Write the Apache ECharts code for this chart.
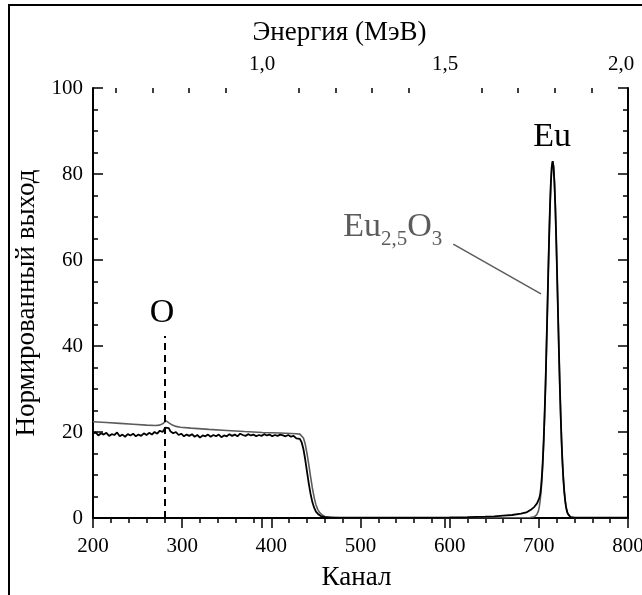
<!DOCTYPE html>
<html>
<head>
<meta charset="utf-8">
<script src="https://cdn.jsdelivr.net/npm/echarts@6/dist/echarts.min.js"></script>
<style>
  html, body { margin: 0; padding: 0; background: #fff; }
  #chart { width: 642px; height: 595px; }
</style>
</head>
<body>
<div id="chart"></div>
<script>
// Measured RBS spectrum (black) and simulated Eu2,5O3 spectrum (grey), yield vs channel
const measuredChannel = [
  200, 203, 206, 209, 212, 215, 218, 221, 224, 227, 230, 233, 236, 239, 242, 245, 248, 251, 254, 257,
  260, 263, 266, 269, 272, 275, 278, 281, 283, 285, 287, 290, 293, 296, 299, 302, 305, 308, 311, 314,
  317, 320, 323, 326, 329, 332, 335, 338, 341, 344, 347, 350, 353, 356, 359, 362, 365, 368, 371, 374,
  377, 380, 383, 386, 389, 392, 395, 398, 401, 404, 407, 410, 413, 416, 419, 422, 425, 428, 430, 432,
  434, 436, 438, 440, 442, 444, 446, 448, 450, 453, 456, 460, 470, 500, 550, 600, 620, 640, 650, 660,
  670, 680, 686, 691, 695, 698, 700.5, 701.5, 702.5, 703.5, 704.5, 705.5, 706.5, 707.5, 708.5, 709.5,
  710.5, 711.5, 712.5, 713.5, 714.5, 715.5, 716.5, 717.5, 718.5, 719.5, 720.5, 721.5, 722.5, 723.5,
  724.5, 725.5, 726.5, 727.5, 728.5, 729.5, 730.5, 731.5, 732.5, 733.5, 735.5, 740, 800
];
const measuredYield = [
  19.6, 19.9, 19.2, 19.7, 19.4, 19.8, 19.1, 19.5, 19.3, 19.9, 19.0, 19.4, 18.9, 19.5, 19.2, 19.6, 19.0, 19.4, 19.1, 19.7,
  19.3, 19.8, 19.4, 20.0, 19.6, 20.3, 20.0, 21.0, 20.6, 20.9, 20.1, 19.7, 20.0, 19.3, 19.6, 19.0, 19.4, 19.1, 19.5, 18.9,
  19.3, 18.7, 19.2, 19.0, 19.4, 18.9, 19.3, 19.0, 19.4, 18.8, 19.2, 19.0, 19.5, 19.1, 19.4, 19.0, 19.6, 19.3, 19.1, 19.5,
  19.2, 19.4, 19.0, 19.3, 19.1, 19.5, 19.2, 19.4, 19.0, 19.3, 19.1, 19.4, 19.2, 19.0, 19.3, 18.9, 19.1, 18.5, 18.9, 18.4,
  17.6, 16.0, 13.6, 10.8, 8.0, 5.6, 3.7, 2.4, 1.5, 0.8, 0.4, 0.2, 0.1, 0.1, 0.1, 0.15, 0.2, 0.3, 0.4, 0.55,
  0.7, 1.0, 1.3, 1.9, 2.6, 3.4, 4.6, 5.5, 7.2, 9.9, 13.6, 18.4, 24.4, 31.0, 39.1, 47.7,
  56.5, 64.9, 72.3, 78.0, 81.7, 83.0, 81.7, 78.0, 72.3, 64.9, 56.5, 47.7, 39.1, 31.0,
  23.9, 17.8, 12.9, 9.1, 6.2, 4.1, 2.6, 1.6, 1.0, 0.6, 0.2, 0.1, 0.1
];

const simulatedChannel = [
  200, 215, 230, 245, 260, 270, 275, 278, 280, 282, 284, 286, 289, 293, 298, 310, 330, 350, 370, 390,
  410, 428, 432, 434, 436, 438, 440, 442, 444, 446, 448, 450, 452, 454, 457, 460, 465, 475, 550, 650,
  690, 695, 697.5, 698.5, 699.5, 700.5, 701.5, 702.5, 703.5, 704.5, 705.5, 706.5, 707.5, 708.5, 709.5,
  710.5, 711.5, 712.5, 713.5, 714.5, 715.5, 716.5, 717.5, 718.5, 719.5, 720.5, 721.5, 722.5, 723.5,
  724.5, 725.5, 726.5, 727.5, 728.5, 729.5, 730.5, 731.5, 732.5, 733.5, 735.5, 740, 800
];
const simulatedYield = [
  22.4, 22.2, 22.0, 21.8, 21.6, 21.5, 21.6, 21.9, 22.3, 22.6, 22.4, 22.0, 21.6, 21.3, 21.1, 20.9, 20.6, 20.35, 20.1, 19.9,
  19.75, 19.6, 19.5, 19.3, 18.6, 17.2, 15.0, 12.4, 9.6, 7.0, 4.8, 3.1, 2.0, 1.3, 0.7, 0.35, 0.15, 0.05, 0.05, 0.05,
  0.1, 0.3, 0.7, 1.0, 1.6, 2.6, 4.1, 6.2, 9.1, 12.9, 17.8, 23.9, 31.0, 39.1, 47.7,
  56.5, 64.9, 72.3, 78.0, 81.7, 83.0, 81.7, 78.0, 72.3, 64.9, 56.5, 47.7, 39.1, 31.0,
  23.9, 17.8, 12.9, 9.1, 6.2, 4.1, 2.6, 1.6, 1.0, 0.6, 0.2, 0.05, 0.05
];

// Axis ranges and tick values
const channelRange = [200, 800];
const yieldRange = [0, 100];
const energyRange = [0.538, 2.0];           // MeV at channel 200 and 800
const energyMajorTicks = [1.0, 1.5, 2.0];
const energyMinorTicks = [0.6, 0.7, 0.8, 0.9, 1.1, 1.2, 1.3, 1.4, 1.6, 1.7, 1.8, 1.9];

// Annotation anchors in data units
const oxygenChannel = 281;
const oxygenLineTop = 42.3;
const oxygenLabel = 'O';
const europiumLabel = 'Eu';
const europiumLabelAt = [715, 88.5];
const oxygenLabelAt = [277.5, 47.6];
const compoundLabelAt = [480.7, 67.6];
const compoundLeader = [[604, 63.7], [702.4, 52.1]];

const FONT = 'Liberation Serif';
const zip = (xs, ys) => xs.map((x, i) => [x, ys[i]]);

const chart = echarts.init(document.getElementById('chart'), null, { renderer: 'canvas' });

const axisLine = { lineStyle: { color: '#000', width: 2 } };
const tickStyle = { color: '#000', width: 1.5 };
const commaFmt = v => v.toFixed(1).replace('.', ',');
// last energy label is pulled inward so it stays inside the figure
const energyFmt = v => (v >= energyRange[1] ? '{last|' + commaFmt(v) + '}' : commaFmt(v));

chart.setOption({
  animation: false,
  backgroundColor: '#fff',
  grid: { left: 93, right: 14, top: 88, bottom: 77, containLabel: false, outerBoundsMode: 'none' },
  xAxis: [
    {
      type: 'value', position: 'bottom', min: channelRange[0], max: channelRange[1], interval: 100,
      name: 'Канал', nameLocation: 'middle', nameGap: 46,
      nameTextStyle: { fontFamily: FONT, fontSize: 27, color: '#000', padding: [0, 8, 0, 0] },
      axisLine: axisLine,
      axisTick: { inside: false, length: 10, lineStyle: tickStyle },
      minorTick: { show: true, splitNumber: 5, length: 5, lineStyle: tickStyle },
      axisLabel: { margin: 18, fontFamily: FONT, fontSize: 21, color: '#000' },
      splitLine: { show: false }
    },
    {
      type: 'value', position: 'top', min: energyRange[0], max: energyRange[1],
      name: 'Энергия (МэВ)', nameLocation: 'middle', nameGap: 42,
      nameTextStyle: { fontFamily: FONT, fontSize: 27, color: '#000', padding: [0, 42, 0, 0] },
      axisLine: axisLine,
      axisTick: { inside: true, length: 10, customValues: energyMajorTicks, lineStyle: tickStyle },
      axisLabel: {
        margin: 13, customValues: energyMajorTicks, formatter: energyFmt,
        fontFamily: FONT, fontSize: 21, color: '#000',
        rich: { last: { fontFamily: FONT, fontSize: 21, color: '#000', padding: [0, 14, 0, 0] } }
      },
      splitLine: { show: false }
    },
    {
      type: 'value', position: 'top', min: energyRange[0], max: energyRange[1],
      axisLine: { show: false },
      axisTick: { inside: true, length: 5, customValues: energyMinorTicks, lineStyle: tickStyle },
      axisLabel: { show: false },
      splitLine: { show: false }
    }
  ],
  yAxis: [
    {
      type: 'value', position: 'left', min: yieldRange[0], max: yieldRange[1], interval: 20,
      name: 'Нормированный выход', nameLocation: 'middle', nameGap: 40,
      nameTextStyle: { fontFamily: FONT, fontSize: 27, color: '#000' },
      axisLine: axisLine,
      axisTick: { inside: true, length: 10, lineStyle: tickStyle },
      minorTick: { show: true, splitNumber: 4, length: 5, lineStyle: tickStyle },
      axisLabel: { margin: 10, fontFamily: FONT, fontSize: 21, color: '#000' },
      splitLine: { show: false }
    },
    {
      type: 'value', position: 'right', min: yieldRange[0], max: yieldRange[1], interval: 20,
      axisLine: axisLine,
      axisTick: { inside: true, length: 10, lineStyle: tickStyle },
      minorTick: { show: true, splitNumber: 4, length: 5, lineStyle: tickStyle },
      axisLabel: { show: false },
      splitLine: { show: false }
    }
  ],
  series: [
    {
      name: 'simulated', type: 'line', xAxisIndex: 0, yAxisIndex: 0,
      data: zip(simulatedChannel, simulatedYield),
      showSymbol: false, symbol: 'none',
      lineStyle: { color: '#5c5c5c', width: 1.6 },
      z: 2,
      markLine: {
        silent: true, symbol: ['none', 'none'], label: { show: false },
        lineStyle: { color: '#5c5c5c', width: 1.5, type: 'solid' },
        data: [[{ coord: compoundLeader[0] }, { coord: compoundLeader[1] }]]
      }
    },
    {
      name: 'measured', type: 'line', xAxisIndex: 0, yAxisIndex: 0,
      data: zip(measuredChannel, measuredYield),
      showSymbol: false, symbol: 'none',
      lineStyle: { color: '#000', width: 1.8 },
      z: 3,
      markLine: {
        silent: true, symbol: ['none', 'none'], label: { show: false },
        lineStyle: { color: '#000', width: 2, type: [7, 5] },
        data: [[{ coord: [oxygenChannel, 0] }, { coord: [oxygenChannel, oxygenLineTop] }]]
      }
    }
  ]
});

// Text annotations placed at data coordinates
const toPx = p => chart.convertToPixel({ xAxisIndex: 0, yAxisIndex: 0 }, p);
const ctx = document.createElement('canvas').getContext('2d');
const measure = (t, size) => { ctx.font = size + 'px "' + FONT + '"'; return ctx.measureText(t).width; };

const bigSize = 34, subSize = 21, subDrop = 12.5;
const euPx = toPx(europiumLabelAt);
const oPx = toPx(oxygenLabelAt);
const cPx = toPx(compoundLabelAt);

function txt(text, x, y, size, color, align) {
  return {
    type: 'text', x: x, y: y, silent: true, z: 10,
    style: {
      text: text, font: size + 'px "' + FONT + '"', fill: color,
      align: align || 'left', verticalAlign: 'middle',
      textAlign: align || 'left', textVerticalAlign: 'middle'
    }
  };
}

const grey = '#5c5c5c';
const parts = [];
let cx = cPx[0];
[['Eu', bigSize, 0], ['2,5', subSize, subDrop], ['O', bigSize, 0], ['3', subSize, subDrop]].forEach(([t, s, d]) => {
  parts.push(txt(t, cx, cPx[1] + d, s, grey, 'left'));
  cx += measure(t, s);
});

chart.setOption({
  graphic: [
    // outer figure frame (left and top edges)
    {
      type: 'polyline', silent: true, z: 10,
      shape: { points: [[9, 595], [9, 5], [642, 5]] },
      style: { stroke: '#000', lineWidth: 2, fill: null }
    },
    txt(europiumLabel, euPx[0], euPx[1], bigSize, '#000', 'center'),
    txt(oxygenLabel, oPx[0], oPx[1], bigSize, '#000', 'center'),
    ...parts
  ]
});
</script>
</body>
</html>
